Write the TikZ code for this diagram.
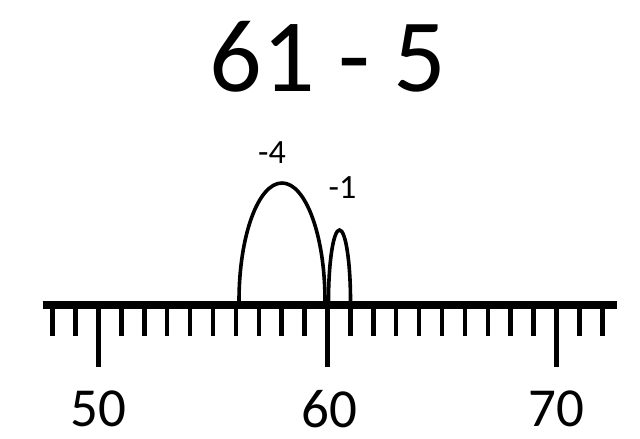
\documentclass[tikz,border=0pt]{standalone}
\usepackage{fontspec}
\setmainfont{Carlito}
\usepackage{tikz}

\begin{document}
\begin{tikzpicture}[
x=1pt, y=-1pt,
title/.style={inner sep=0pt, font=\fontsize{104}{104}\selectfont},
num/.style={inner sep=0pt, font=\fontsize{55}{55}\selectfont},
jump/.style={inner sep=0pt, font=\fontsize{34}{34}\selectfont},
hop/.style={line width=3.6pt},
tick/.style={line width=4.5pt}
]
\useasboundingbox (0,0) rectangle (640,439);
%Nodes
\node[title]     (sum)      at (328,57)                  {61 - 5};
\node[num]       (n50)      at (98.5,409)                {50};
\node[num]       (n60)      at (329.5,409)               {60};
\node[num]       (n70)      at (556.5,409)               {70};
\node[jump]      (j4)       at (272,153)                 {-4};
\node[jump]      (j1)       at (342.5,188)               {-1};
\coordinate      (start)    at (42.5,305);
\coordinate      (end)      at (617,305);
%Lines
\draw[line width=8pt] (start) -- (end);
\foreach \n in {48,...,72}{
  \pgfmathsetmacro{\xx}{98.5+(\n-50)*22.9}
  \pgfmathsetmacro{\yy}{mod(\n,10)==0 ? 367 : 336}
  \draw[tick] (\xx,305) -- (\xx,\yy);
}
\draw[hop] (239,301) arc[start angle=180, end angle=0, x radius=43pt, y radius=118pt];
\draw[hop] (328.5,301) arc[start angle=180, end angle=0, x radius=11pt, y radius=71pt];
\end{tikzpicture}
\end{document}
